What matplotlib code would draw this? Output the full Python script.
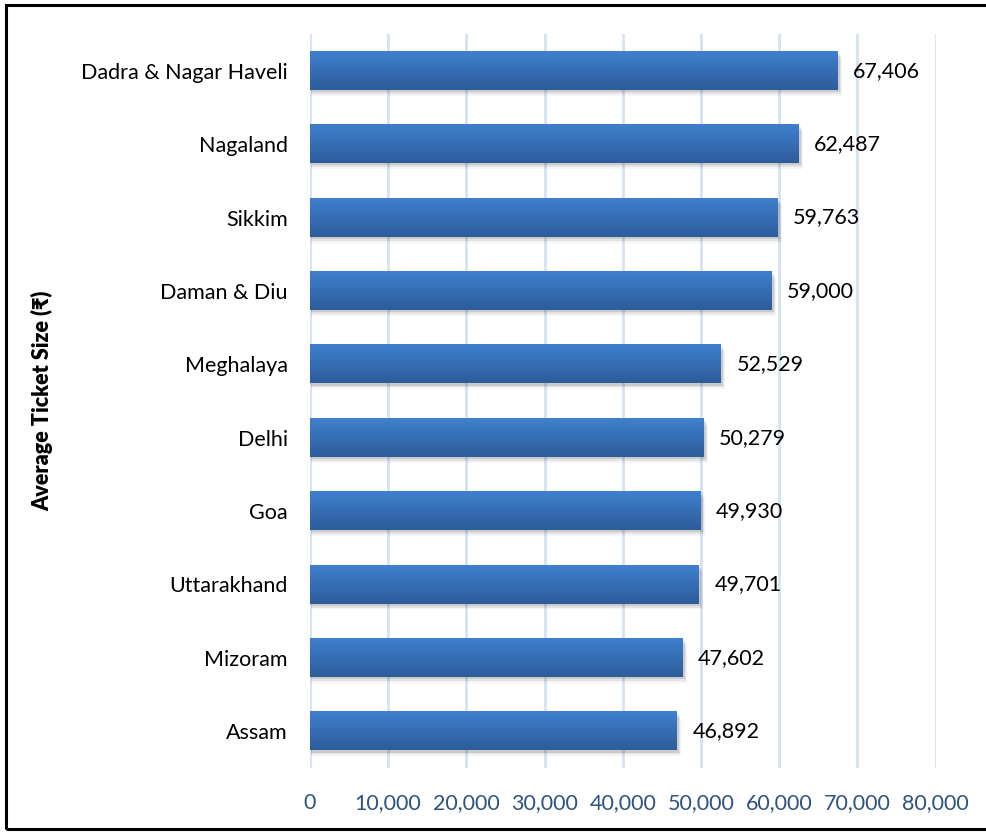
import matplotlib
matplotlib.use("Agg")
import matplotlib.pyplot as plt
import numpy as np
from matplotlib.patches import Rectangle
from matplotlib.colors import LinearSegmentedColormap

states = ["Assam", "Mizoram", "Uttarakhand", "Goa", "Delhi", "Meghalaya",
          "Daman & Diu", "Sikkim", "Nagaland", "Dadra & Nagar Haveli"]
ticket_size = [46892, 47602, 49701, 49930, 50279, 52529,
               59000, 59763, 62487, 67406]
x_ticks = [0, 10000, 20000, 30000, 40000, 50000, 60000, 70000, 80000]

plt.rcParams['font.family'] = ['Lato', 'DejaVu Sans']

fig = plt.figure(figsize=(9.87, 8.32), dpi=100)
ax = fig.add_axes([0.314, 0.077, 0.634, 0.882])

bar_h = 0.52
ypos = np.arange(len(states))
bars = ax.barh(ypos, ticket_size, height=bar_h, color='none', zorder=3)

# vertical gradient for the bar fill, plus a soft drop shadow
grad = LinearSegmentedColormap.from_list('bar', ['#2d5c9a', '#3f80cf'])
g = np.linspace(0, 1, 64).reshape(-1, 1)
for b in bars:
    x0, y0 = b.get_x(), b.get_y()
    w, h = b.get_width(), b.get_height()
    for k, a in enumerate([0.10, 0.07, 0.04]):
        off = 0.03 + 0.025 * k
        ax.add_patch(Rectangle((x0 + 150, y0 - off), w + 150 * (k + 1), h,
                               facecolor='black', alpha=a, lw=0, zorder=2))
    ax.imshow(g, cmap=grad, aspect='auto', origin='lower',
              extent=(x0, x0 + w, y0, y0 + h), zorder=3, interpolation='bicubic')

for y, v in zip(ypos, ticket_size):
    ax.text(v + 2000, y, f"{v:,}", va='center', ha='left', fontsize=15.5,
            color='black')

ax.set_xlim(0, 80000)
ax.set_ylim(-0.5, 9.5)
ax.set_xticks(x_ticks)
ax.set_xticklabels([f"{t:,}" for t in x_ticks], fontsize=15.5, color='#2f5280')
ax.set_yticks(ypos)
ax.set_yticklabels(states, fontsize=15.5, color='black')
ax.tick_params(axis='both', length=0)
ax.tick_params(axis='x', pad=18)
ax.tick_params(axis='y', pad=16)
ax.grid(axis='x', color='#d6e2f2', linewidth=2, zorder=0)
ax.set_axisbelow(True)
for s in ax.spines.values():
    s.set_visible(False)

ax.set_ylabel("Average Ticket Size (₹)", fontsize=15.5, fontweight='heavy')
ax.yaxis.set_label_coords(-0.41, 0.5)

# outer frame around the whole chart
fig.add_artist(Rectangle((6 / 987, 3 / 832), 990 / 987, 824 / 832,
                         transform=fig.transFigure, fill=False,
                         edgecolor='black', linewidth=2.2))

fig.savefig('out.png', dpi=100)
